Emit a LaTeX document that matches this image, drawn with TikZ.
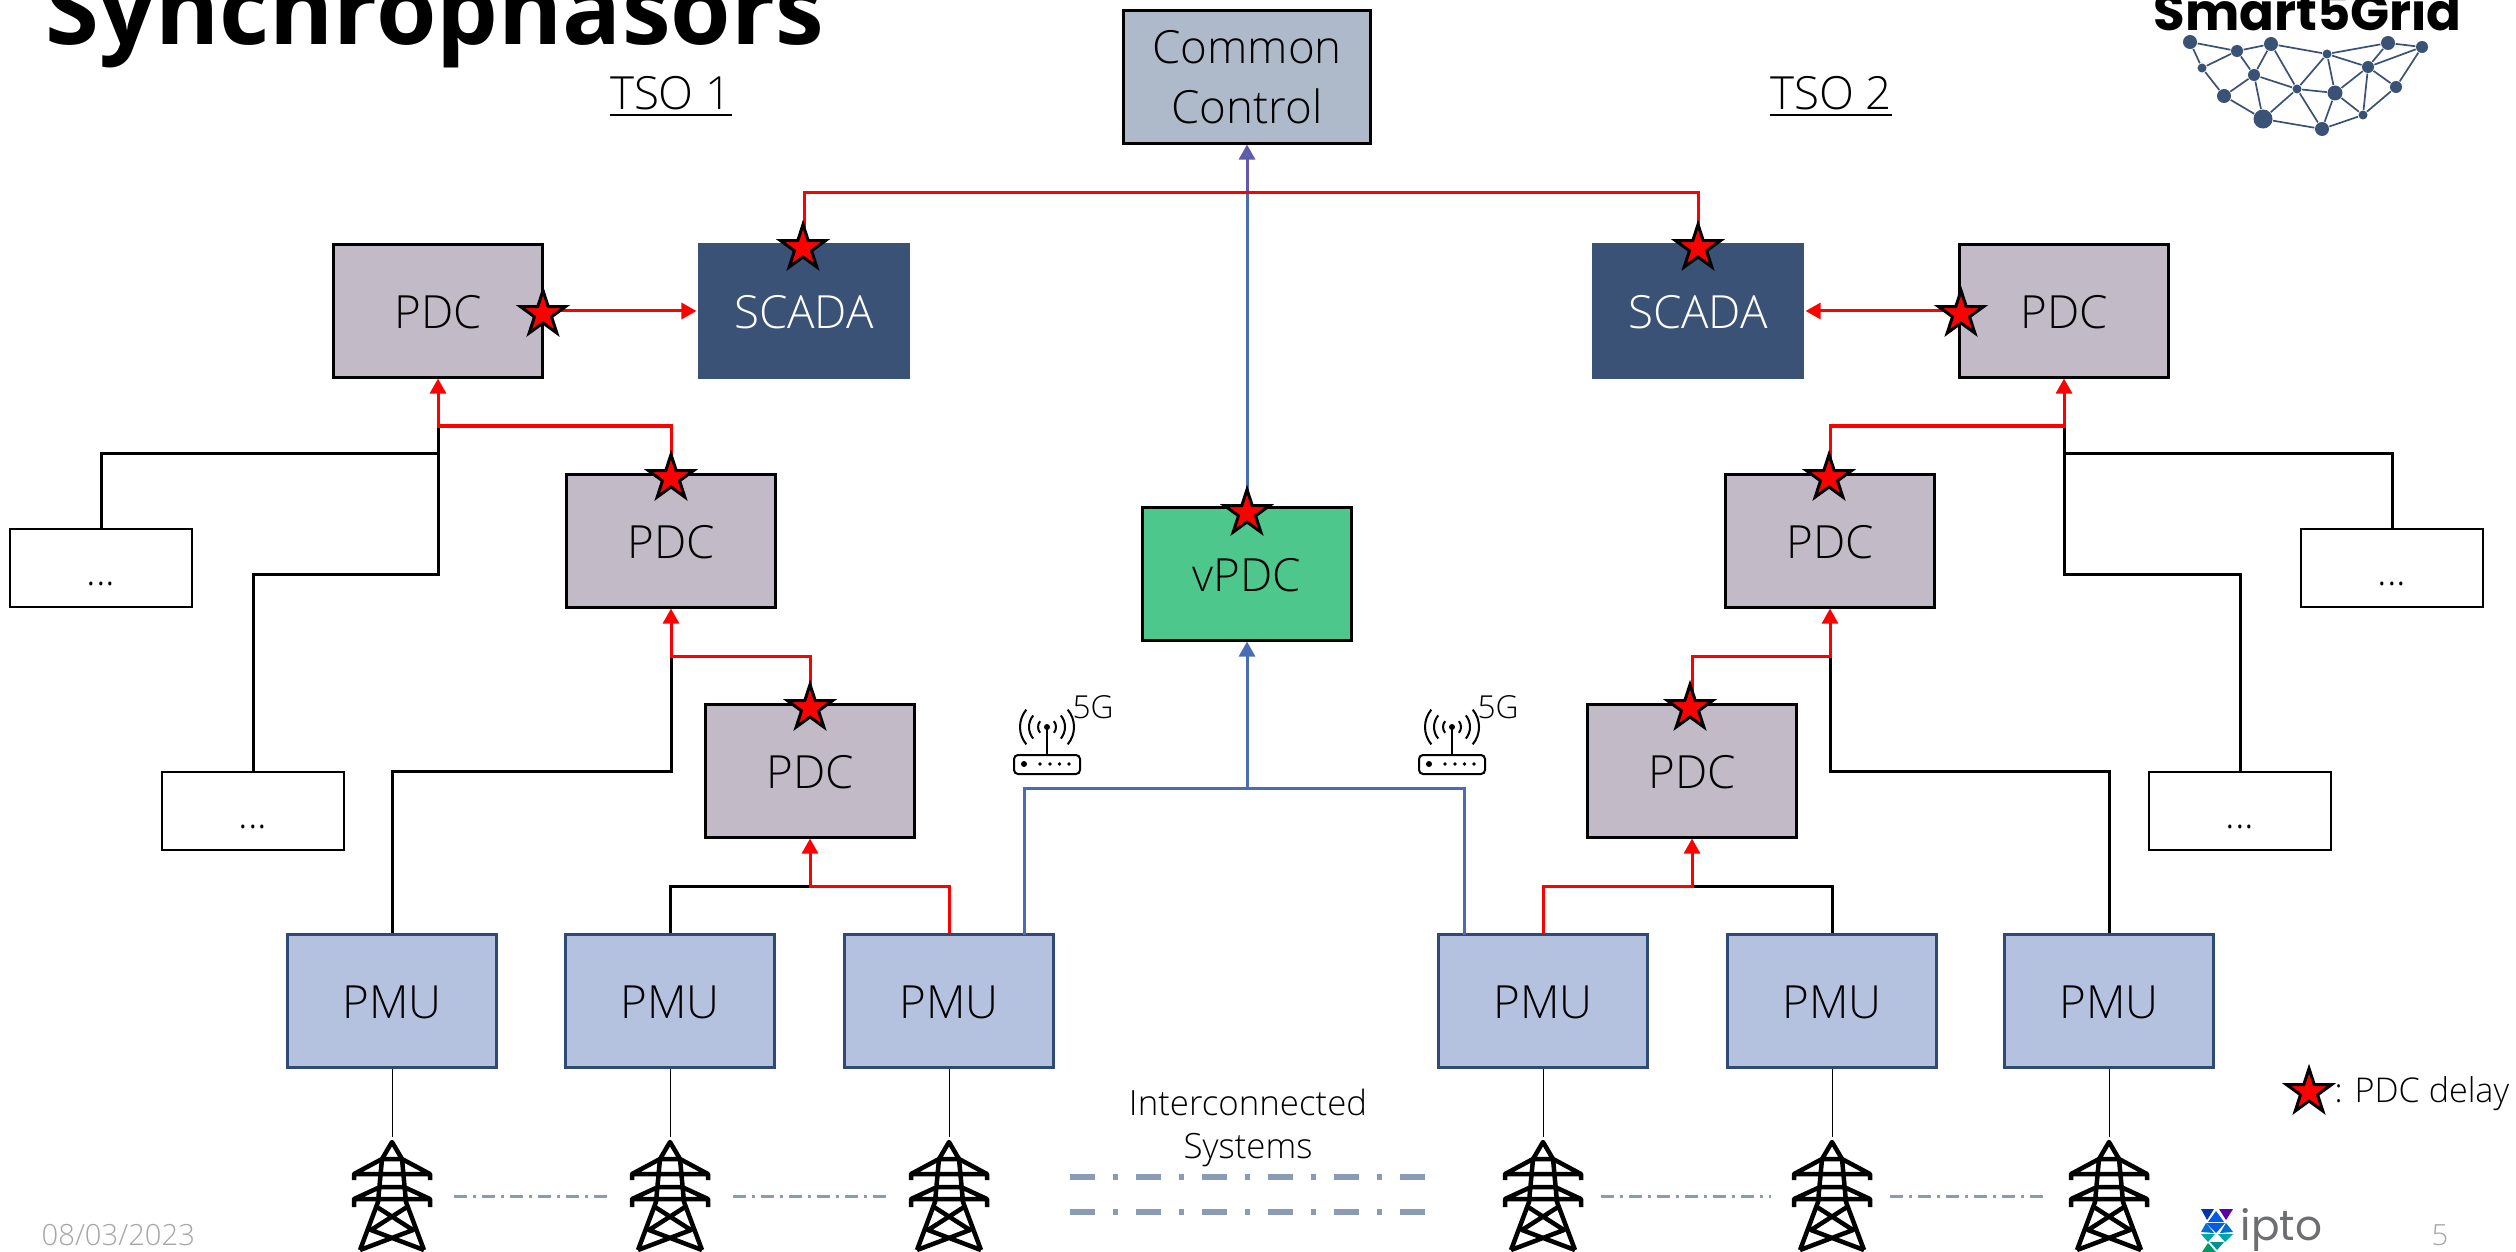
\documentclass[tikz,border=0pt]{standalone}
\usepackage{fontspec}
\setmainfont{Open Sans Light}[BoldFont={Open Sans Bold}]
\newfontfamily\logofont{Poppins}[BoldFont={Poppins Bold}]
\usetikzlibrary{arrows.meta,shapes.geometric}

\definecolor{pdcgray}{HTML}{C2BBC7}
\definecolor{pmublue}{HTML}{B4C1DF}
\definecolor{pmuedge}{HTML}{2F4A75}
\definecolor{scadablue}{HTML}{3A5275}
\definecolor{commongray}{HTML}{AEB9CA}
\definecolor{vpdcgreen}{HTML}{4EC78C}
\definecolor{wireblue}{HTML}{4A6CB3}
\definecolor{wirepurple}{HTML}{6459A8}
\definecolor{linkgray}{HTML}{8A9BB8}
\definecolor{footgray}{HTML}{A6A6A6}
\definecolor{iptogray}{HTML}{6D6E71}

\tikzset{
  x=0.01cm,y=-0.01cm,
  pdcbox/.style={draw=black,fill=pdcgray,line width=0.03cm,minimum width=2.09cm,minimum height=1.32cm,inner sep=0pt,text height=10pt,text depth=0pt,font=\fontsize{13}{16}\selectfont},
  pmubox/.style={pdcbox,draw=pmuedge,fill=pmublue},
  scadabox/.style={pdcbox,draw=none,fill=scadablue,text=white,minimum width=2.12cm,minimum height=1.35cm},
  vpdcbox/.style={pdcbox,fill=vpdcgreen},
  commonbox/.style={pdcbox,fill=commongray,minimum width=2.46cm,align=center,text height=,text depth=},
  dotsbox/.style={draw=black,line width=0.02cm,minimum width=1.82cm,minimum height=0.78cm,inner sep=0pt,text height=10pt,text depth=0pt,font=\fontsize{11.5}{14}\selectfont},
  pdcstar/.style={star,star points=5,star point ratio=2.618,draw=black,fill=red,line width=0.03cm,minimum size=0.47cm,inner sep=0pt},
  blackwire/.style={black,line width=0.03cm},
  redwire/.style={red,line width=0.03cm},
  bluewire/.style={wireblue,line width=0.03cm},
  purplewire/.style={wirepurple,line width=0.03cm},
  arrowed/.style={-{Triangle[length=0.15cm,width=0.16cm]}},
  feeder/.style={black,line width=0.01cm},
  linkthin/.style={linkgray,line width=0.03cm,dash pattern=on 0.13cm off 0.06cm on 0.03cm off 0.06cm},
  linkthick/.style={linkgray,line width=0.06cm,dash pattern=on 0.25cm off 0.18cm on 0.05cm off 0.18cm},
  plaintext/.style={inner sep=0pt,font=\fontsize{13}{16}\selectfont},
  smalltext/.style={inner sep=0pt,font=\fontsize{9.9}{12.3}\selectfont},
  foottext/.style={inner sep=0pt,text=footgray,font=\fontsize{8.3}{10}\selectfont},
  logowire/.style={scadablue,line width=0.017cm},
  logodotS/.style={circle,fill=scadablue,inner sep=0pt,minimum size=0.09cm},
  logodotM/.style={circle,fill=scadablue,inner sep=0pt,minimum size=0.12cm},
  logodotL/.style={circle,fill=scadablue,inner sep=0pt,minimum size=0.14cm},
  % Pylon measured from its tip
  pylon/.pic={
    \draw[black,line width=0.045cm,line join=round]
      (-10,17) -- (0,0) -- (10,17) -- cycle
      (-38,38) -- (-38,32) -- (-10,17) (38,38) -- (38,32) -- (10,17)
      (-38,32) -- (38,32)
      (-12,45) -- (12,45)
      (-38,65) -- (-38,57) -- (-12,45) (38,65) -- (38,57) -- (12,45)
      (-38,57) -- (38,57)
      (-10,17) -- (-14,60) -- (-32,108) (10,17) -- (14,60) -- (32,108)
      (-15,65) -- (21,88) -- (-32,108) (15,65) -- (-21,88) -- (32,108);
  },
  % Router measured from the head of its antenna
  router/.pic={
    \fill[black] (0,0) circle (3);
    \draw[black,line width=0.02cm] (0,0) -- (0,28);
    \draw[black,line width=0.02cm,rounded corners=0.04cm] (-33,28) rectangle (33,47);
    \draw[black,line width=0.02cm]
      (-40:9) arc[start angle=-40,end angle=40,radius=9]
      (-40:18) arc[start angle=-40,end angle=40,radius=18]
      (-40:27) arc[start angle=-40,end angle=40,radius=27]
      (140:9) arc[start angle=140,end angle=220,radius=9]
      (140:18) arc[start angle=140,end angle=220,radius=18]
      (140:27) arc[start angle=140,end angle=220,radius=27];
    \fill[black] (-23,37) circle (3) (-7,37) circle (1.8) (3,37) circle (1.8) (12.5,37) circle (1.8) (22,37) circle (1.8);
  }
}

\begin{document}
\begin{tikzpicture}
  \useasboundingbox (0,0) rectangle (2516,1252);

  % Heading and the two sides
  \node[inner sep=0pt,anchor=base west,font=\fontsize{27.8}{32}\selectfont\bfseries] (title) at (45,45) {Synchrophasors};
  \node[plaintext] (tsoA) at (671,97) {\underline{TSO 1}};
  \node[plaintext] (tsoB) at (1831,97) {\underline{TSO 2}};

  % Boxes of TSO 1
  \node[pdcbox] (pdcTL) at (438,311) {PDC};
  \node[pdcbox] (pdcML) at (671,541) {PDC};
  \node[pdcbox] (pdcLL) at (810,771) {PDC};
  \node[scadabox] (scadaL) at (804,311) {SCADA};
  \node[dotsbox] (dotsA) at (101,568) {...};
  \node[dotsbox] (dotsB) at (253,811) {...};
  \node[pmubox] (pmuA) at (392,1001) {PMU};
  \node[pmubox] (pmuB) at (670,1001) {PMU};
  \node[pmubox] (pmuC) at (949,1001) {PMU};

  % Boxes of TSO 2
  \node[pdcbox] (pdcTR) at (2064,311) {PDC};
  \node[pdcbox] (pdcMR) at (1830,541) {PDC};
  \node[pdcbox] (pdcLR) at (1692,771) {PDC};
  \node[scadabox] (scadaR) at (1698,311) {SCADA};
  \node[dotsbox] (dotsC) at (2392,568) {...};
  \node[dotsbox] (dotsD) at (2240,811) {...};
  \node[pmubox] (pmuD) at (1543,1001) {PMU};
  \node[pmubox] (pmuE) at (1832,1001) {PMU};
  \node[pmubox] (pmuF) at (2109,1001) {PMU};

  % Centre column
  \node[commonbox] (common) at (1247,77) {Common\\[1pt]Control};
  \node[vpdcbox] (vpdc) at (1247,574) {vPDC};

  % Junctions of the wires
  \coordinate (jC) at (1247,193);
  \coordinate (jV) at (1247,788);
  \coordinate (pmuCblue) at (1024,935);
  \coordinate (pmuDblue) at (1464,935);
  \coordinate (jTL) at (438,426);
  \coordinate (kTL) at (438,453);
  \coordinate (mTL) at (438,574);
  \coordinate (jML) at (671,656);
  \coordinate (mML) at (671,771);
  \coordinate (jLL) at (810,886);
  \coordinate (jTR) at (2064,426);
  \coordinate (kTR) at (2064,453);
  \coordinate (mTR) at (2064,574);
  \coordinate (jMR) at (1830,656);
  \coordinate (mMR) at (1830,771);
  \coordinate (jLR) at (1692,886);

  % Black wires
  \draw[blackwire] (jTL) -- (mTL) -| (dotsB.north);
  \draw[blackwire] (kTL) -| (dotsA.north);
  \draw[blackwire] (jML) -- (mML) -| (pmuA.north);
  \draw[blackwire] (jLL) -| (pmuB.north);
  \draw[blackwire] (jTR) -- (mTR) -| (dotsD.north);
  \draw[blackwire] (kTR) -| (dotsC.north);
  \draw[blackwire] (jMR) -- (mMR) -| (pmuF.north);
  \draw[blackwire] (jLR) -| (pmuE.north);

  % Blue wires
  \draw[bluewire] (pmuCblue) |- (jV);
  \draw[bluewire] (pmuDblue) |- (jV);
  \draw[bluewire,arrowed] (jV) -- (vpdc.south);
  \draw[bluewire] (vpdc.north) -- (jC);
  \draw[purplewire,-{Triangle[length=0.15cm,width=0.16cm,fill=wireblue]}] (jC) -- (common.south);

  % Red wires
  \draw[redwire] (scadaL.north) |- (jC) -| (scadaR.north);
  \draw[redwire,arrowed] (pdcTL.east) -- (scadaL.west);
  \draw[redwire,arrowed] (pdcTR.west) -- (scadaR.east);
  \draw[redwire,arrowed] (pdcML.north) |- (jTL) -- (pdcTL.south);
  \draw[redwire,arrowed] (pdcLL.north) |- (jML) -- (pdcML.south);
  \draw[redwire,arrowed] (pmuC.north) |- (jLL) -- (pdcLL.south);
  \draw[redwire,arrowed] (pdcMR.north) |- (jTR) -- (pdcTR.south);
  \draw[redwire,arrowed] (pdcLR.north) |- (jMR) -- (pdcMR.south);
  \draw[redwire,arrowed] (pmuD.north) |- (jLR) -- (pdcLR.south);

  % Delay stars
  \node[pdcstar] (starA) at (543,314) {};
  \node[pdcstar] (starB) at (803,248) {};
  \node[pdcstar] (starC) at (671,478) {};
  \node[pdcstar] (starD) at (810,708) {};
  \node[pdcstar] (starE) at (1961,314) {};
  \node[pdcstar] (starF) at (1698,248) {};
  \node[pdcstar] (starG) at (1829,478) {};
  \node[pdcstar] (starH) at (1690,708) {};
  \node[pdcstar] (starI) at (1247,513) {};

  % Routers
  \pic at (1047,727) {router};
  \pic at (1452,727) {router};
  \node[inner sep=0pt,font=\fontsize{9}{11}\selectfont] (fiveA) at (1093,707) {5G};
  \node[inner sep=0pt,font=\fontsize{9}{11}\selectfont] (fiveB) at (1498,707) {5G};

  % Pylons
  \coordinate (towerA) at (392,1142);
  \coordinate (towerB) at (670,1142);
  \coordinate (towerC) at (949,1142);
  \coordinate (towerD) at (1543,1142);
  \coordinate (towerE) at (1832,1142);
  \coordinate (towerF) at (2109,1142);
  \pic at (towerA) {pylon};
  \pic at (towerB) {pylon};
  \pic at (towerC) {pylon};
  \pic at (towerD) {pylon};
  \pic at (towerE) {pylon};
  \pic at (towerF) {pylon};
  \draw[feeder,shorten >=0.05cm] (pmuA.south) -- (towerA);
  \draw[feeder,shorten >=0.05cm] (pmuB.south) -- (towerB);
  \draw[feeder,shorten >=0.05cm] (pmuC.south) -- (towerC);
  \draw[feeder,shorten >=0.05cm] (pmuD.south) -- (towerD);
  \draw[feeder,shorten >=0.05cm] (pmuE.south) -- (towerE);
  \draw[feeder,shorten >=0.05cm] (pmuF.south) -- (towerF);

  % Links between pylons
  \coordinate (linkAa) at (454,1196);
  \coordinate (linkAb) at (613,1196);
  \coordinate (linkBa) at (733,1196);
  \coordinate (linkBb) at (892,1196);
  \coordinate (linkCa) at (1601,1196);
  \coordinate (linkCb) at (1771,1196);
  \coordinate (linkDa) at (1890,1196);
  \coordinate (linkDb) at (2049,1196);
  \draw[linkthin] (linkAa) -- (linkAb);
  \draw[linkthin] (linkBa) -- (linkBb);
  \draw[linkthin] (linkCa) -- (linkCb);
  \draw[linkthin] (linkDa) -- (linkDb);

  % Interconnection between the systems
  \node[smalltext,align=center] (inter) at (1248,1128) {Interconnected\\Systems};
  \coordinate (busAa) at (1070,1177);
  \coordinate (busAb) at (1425,1177);
  \coordinate (busBa) at (1070,1212);
  \coordinate (busBb) at (1425,1212);
  \draw[linkthick] (busAa) -- (busAb);
  \draw[linkthick] (busBa) -- (busBb);

  % Legend and footer
  \node[pdcstar] (starKey) at (2309,1092) {};
  \node[inner sep=0pt,anchor=west,font=\fontsize{9.7}{12}\selectfont] (key) at (2334,1094) {: PDC delay};
  \node[foottext,anchor=west] (date) at (41,1235) {08/03/2023};
  \node[foottext] (page) at (2440,1235) {5};

  % Project logo
  \node[inner sep=0pt,anchor=base west,font=\logofont\bfseries\fontsize{14.6}{16}\selectfont] (brand) at (2153,31) {Smart5Grid};
  \node[logodotL] (logoA) at (2190,42) {};
  \node[logodotM] (logoB) at (2237,51) {};
  \node[logodotL] (logoC) at (2271,44) {};
  \node[logodotS] (logoD) at (2327,54) {};
  \node[logodotL] (logoE) at (2388,43) {};
  \node[logodotM] (logoF) at (2422,47) {};
  \node[logodotS] (logoG) at (2202,68) {};
  \node[logodotM] (logoH) at (2254,75) {};
  \node[logodotM] (logoI) at (2368,67) {};
  \node[logodotS] (logoJ) at (2297,89) {};
  \node[logodotM] (logoK) at (2396,87) {};
  \node[logodotL] (logoL) at (2224,96) {};
  \node[logodotL,minimum size=0.15cm] (logoM) at (2335,93) {};
  \node[logodotS] (logoN) at (2363,115) {};
  \node[logodotL,minimum size=0.19cm] (logoO) at (2263,119) {};
  \node[logodotL] (logoP) at (2322,129) {};
  \draw[logowire] (logoA) -- (logoB) -- (logoC) -- (logoD) -- (logoE) -- (logoF);
  \draw[logowire] (logoA) -- (logoG) -- (logoB) -- (logoH) -- (logoC) -- (logoJ) -- (logoH) -- (logoL) -- (logoG);
  \draw[logowire] (logoL) -- (logoO) -- (logoH);
  \draw[logowire] (logoO) -- (logoJ) -- (logoD) -- (logoM) -- (logoJ) -- (logoP) -- (logoO);
  \draw[logowire] (logoP) -- (logoM) -- (logoI) -- (logoD);
  \draw[logowire] (logoI) -- (logoE);
  \draw[logowire] (logoI) -- (logoF) -- (logoK) -- (logoI) -- (logoN) -- (logoM);
  \draw[logowire] (logoP) -- (logoN) -- (logoK);

  % Operator logo
  \fill[blue!60!black!80!cyan] (2201,1209) -- (2214,1209) -- (2207,1220) -- cycle;
  \fill[violet!70!blue] (2219,1209) -- (2233,1209) -- (2226,1220) -- cycle;
  \fill[blue!60!cyan!90!black] (2216,1211) -- (2224,1222) -- (2208,1222) -- cycle;
  \fill[blue!60!cyan!90!black] (2206,1223) -- (2225,1223) -- (2216,1233) -- cycle;
  \fill[blue!45!cyan!80!black] (2201,1232) -- (2206,1223) -- (2214,1233) -- cycle;
  \fill[blue!45!cyan!80!black] (2220,1233) -- (2226,1223) -- (2233,1232) -- cycle;
  \fill[teal!70!cyan] (2201,1234) -- (2215,1234) -- (2208,1242) -- cycle;
  \fill[teal!70!cyan] (2218,1234) -- (2233,1234) -- (2225,1242) -- cycle;
  \fill[teal!85!cyan] (2210,1242) -- (2224,1242) -- (2217,1250) -- cycle;
  \fill[teal!80!green] (2202,1252) -- (2208,1243) -- (2216,1252) -- cycle;
  \node[inner sep=0pt,anchor=base west,text=iptogray,font=\logofont\fontsize{12}{14}\selectfont] (ipto) at (2240,1240) {ipto};
\end{tikzpicture}
\end{document}
